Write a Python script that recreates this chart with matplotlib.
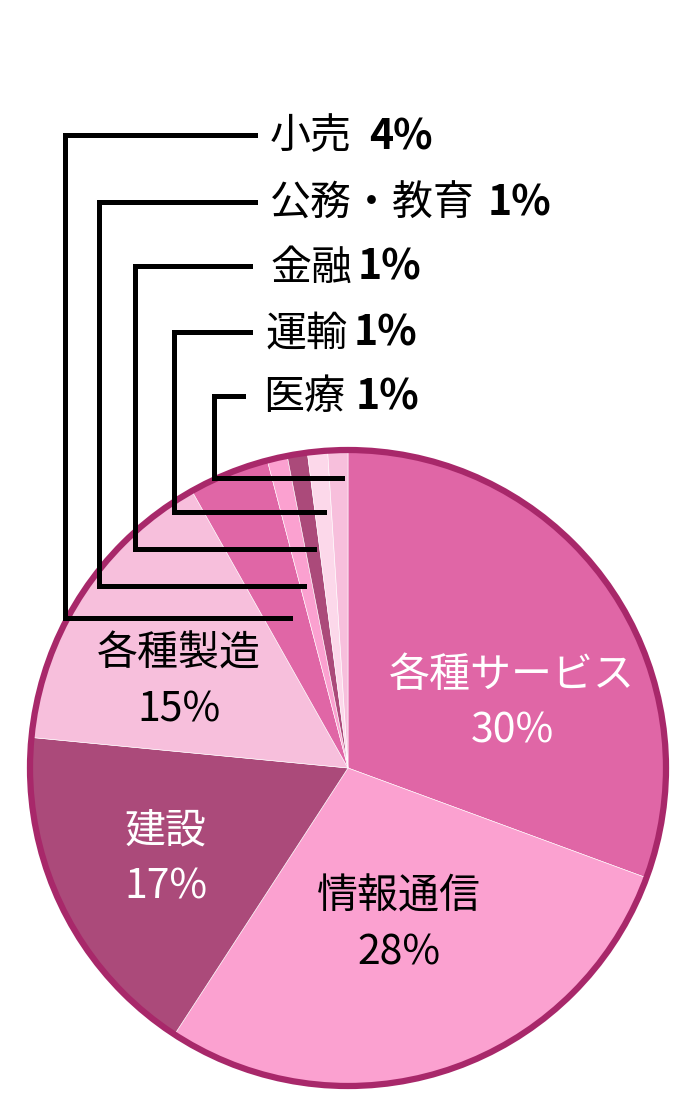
import matplotlib.pyplot as plt
from matplotlib.patches import Circle

plt.rcParams['font.family'] = ['Noto Sans CJK JP', 'DejaVu Sans']

labels = ['各種サービス', '情報通信', '建設', '各種製造', '小売', '公務・教育', '金融', '運輸', '医療']
values = [30, 28, 17, 15, 4, 1, 1, 1, 1]
colors = ['#e066a6', '#fba1d0', '#ab4a7a', '#f7bfdc', '#e066a6',
          '#fba1d0', '#ab4a7a', '#fcd8ea', '#f7bfdc']

H = 1100
def Y(y):
    return H - y

fig = plt.figure(figsize=(7, 11), dpi=100)
ax = fig.add_axes([0, 0, 1, 1])

cx, cy, r = 348, Y(768), 318
ax.pie(values, colors=colors, startangle=90, counterclock=False,
       center=(cx, cy), radius=r,
       wedgeprops=dict(edgecolor='white', linewidth=0.4))
ax.add_patch(Circle((cx, cy), r, fill=False, edgecolor='#a8286a', linewidth=4.5, zorder=5))

ax.set_xlim(0, 700)
ax.set_ylim(0, H)
ax.set_aspect('equal')
ax.axis('off')

fs = 29.5

# labels inside the pie
inside = [
    (0, 512, 703, 'white'),
    (1, 399, 925, 'black'),
    (2, 166, 859, 'white'),
    (3, 179, 682, 'black'),
]
for i, x, y, c in inside:
    ax.text(x, Y(y), f'{labels[i]}\n{values[i]}%', ha='center', va='center', color=c,
            fontsize=fs, linespacing=1.45, zorder=6)

# leader lines for small slices: (index, top y, text x, line end x, vertical x, bottom y, tip x, gap)
small = [
    (4, 135, 270, 255, 65, 618, 290, 12),
    (5, 202, 270, 255, 99, 586, 304, 9),
    (6, 266, 270, 250, 135, 549, 314, 4),
    (7, 332, 265, 250, 174, 512, 324, 5),
    (8, 396, 263, 243, 214, 478, 342, 8),
]
for i, ty, tx, ex, vx, by, tip, gap in small:
    ax.plot([ex, vx, vx, tip], [Y(ty), Y(ty), Y(by), Y(by)], color='black',
            linewidth=3.6, solid_joinstyle='miter', zorder=7)
    name = ax.text(tx, Y(ty + 2), labels[i], ha='left', va='center', fontsize=fs,
                   color='black', zorder=7)
    ax.annotate(f'{values[i]}%', xy=(1, 0.5), xycoords=name, xytext=(gap, 0),
                textcoords='offset points', ha='left', va='center', fontsize=fs,
                fontweight='bold', color='black', zorder=7)

fig.savefig('out.png', dpi=100)
